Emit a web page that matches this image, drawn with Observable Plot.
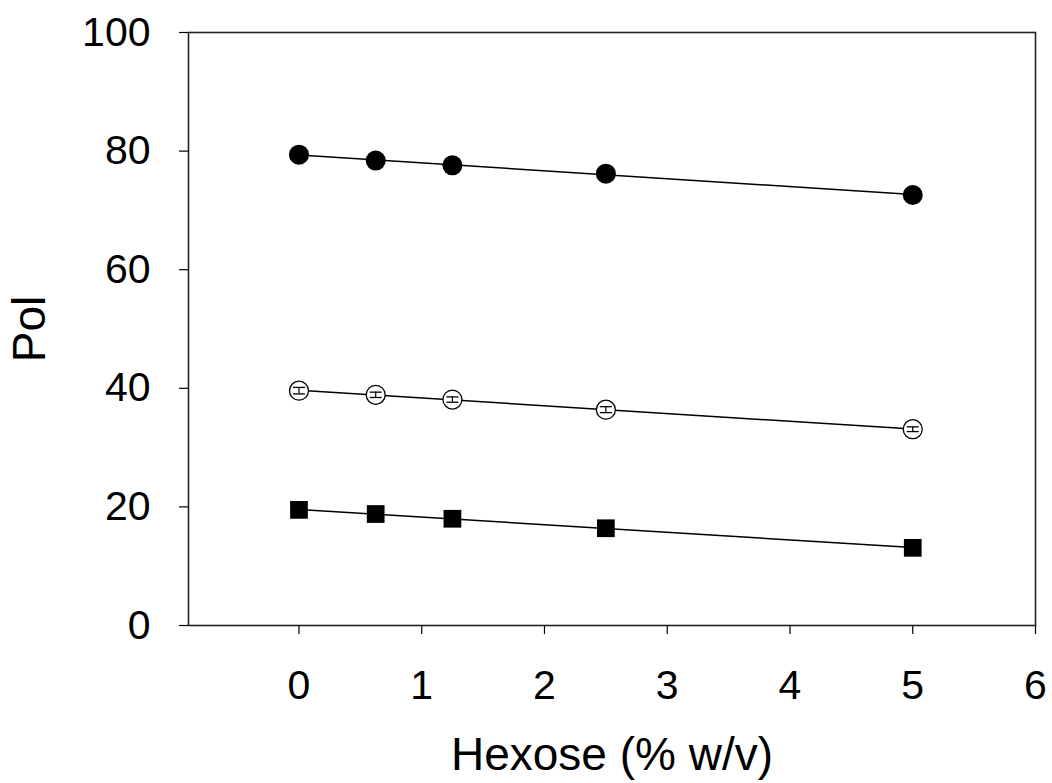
<!DOCTYPE html>
<html>
<head>
<meta charset="utf-8">
<script src="https://cdn.jsdelivr.net/npm/d3@7"></script>
<script src="https://cdn.jsdelivr.net/npm/@observablehq/plot@0.6"></script>
<style>
  html, body { margin: 0; padding: 0; background: #fff; }
</style>
</head>
<body>
<div id="chart"></div>
<script>
// Data
const hexose = [0, 0.625, 1.25, 2.5, 5];
const filledCircle = [79.4, 78.4, 77.6, 76.2, 72.6];
const openCircle = [39.6, 38.9, 38.1, 36.4, 33.1];
const openCircleErr = [0.55, 0.45, 0.45, 0.5, 0.4];
const filledSquare = [19.5, 18.8, 18.0, 16.4, 13.1];
const xTicks = [0, 1, 2, 3, 4, 5, 6];
const yTicks = [0, 20, 40, 60, 80, 100];
const xTitle = "Hexose (% w/v)";
const yTitle = "Pol";

const rows = (ys, errs) => hexose.map((x, i) => ({x, y: ys[i], e: errs ? errs[i] : 0}));
const dFilled = rows(filledCircle);
const dOpen = rows(openCircle, openCircleErr);
const dSquare = rows(filledSquare);

const capSymbol = {
  draw(context, size) {
    const r = Math.sqrt(size / Math.PI);
    context.moveTo(-r, 0);
    context.lineTo(r, 0);
  }
};

const font = "'Liberation Sans', Arial, Helvetica, sans-serif";
const fmt = d => String(d);

const chart = Plot.plot({
  width: 1052,
  height: 783,
  marginLeft: 188,
  marginRight: 17,
  marginTop: 32,
  marginBottom: 158,
  style: {fontFamily: font, background: "#fff", color: "#000"},
  x: {domain: [-0.9, 6], ticks: xTicks},
  y: {domain: [0, 100], ticks: yTicks},
  marks: [
    Plot.axisX({ticks: xTicks, tickFormat: fmt, tickSize: 9, tickPadding: 35, fontSize: 41, label: null, stroke: "#000", strokeWidth: 1.2}),
    Plot.axisY({ticks: yTicks, tickFormat: fmt, tickSize: 9, tickPadding: 29, fontSize: 41, label: null, stroke: "#000", strokeWidth: 1.2}),
    Plot.frame({stroke: "#222", strokeWidth: 1.6}),
    Plot.linearRegressionY(dFilled, {x: "x", y: "y", ci: 0, stroke: "#000", strokeWidth: 1.5}),
    Plot.linearRegressionY(dOpen, {x: "x", y: "y", ci: 0, stroke: "#000", strokeWidth: 1.5}),
    Plot.linearRegressionY(dSquare, {x: "x", y: "y", ci: 0, stroke: "#000", strokeWidth: 1.5}),
    Plot.dot(dFilled, {x: "x", y: "y", r: 10, fill: "#000", symbol: "circle"}),
    Plot.dot(dSquare, {x: "x", y: "y", r: 10, fill: "#000", symbol: "square"}),
    Plot.dot(dOpen, {x: "x", y: "y", r: 9.5, fill: "#fff", stroke: "#000", strokeWidth: 1.3, symbol: "circle"}),
    Plot.ruleX(dOpen, {x: "x", y1: d => d.y - d.e, y2: d => d.y + d.e, stroke: "#000", strokeWidth: 1.2}),
    Plot.dot(dOpen, {x: "x", y: d => d.y - d.e, r: 6, symbol: capSymbol, stroke: "#000", strokeWidth: 1.3, fill: "none"}),
    Plot.dot(dOpen, {x: "x", y: d => d.y + d.e, r: 6, symbol: capSymbol, stroke: "#000", strokeWidth: 1.3, fill: "none"}),
    Plot.text([xTitle], {text: d => d, frameAnchor: "bottom", dy: 144, lineAnchor: "bottom", fontSize: 46, fill: "#000"}),
    Plot.text([yTitle], {text: d => d, frameAnchor: "left", dx: -158, rotate: -90, lineAnchor: "middle", textAnchor: "middle", fontSize: 46, fill: "#000"})
  ]
});
document.getElementById("chart").appendChild(chart);
</script>
</body>
</html>
